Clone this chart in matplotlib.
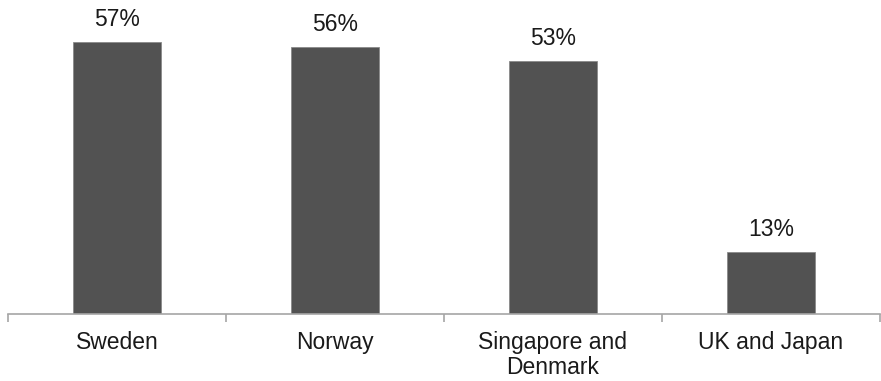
import matplotlib
matplotlib.use("Agg")
import matplotlib.pyplot as plt

plt.rcParams['font.family'] = ['Liberation Sans', 'DejaVu Sans']

categories = ["Sweden", "Norway", "Singapore and\nDenmark", "UK and Japan"]
values = [57, 56, 53, 13]
labels = ["57%", "56%", "53%", "13%"]

fig = plt.figure(figsize=(8.81, 3.81), dpi=100)
ax = fig.add_axes([8 / 881, 67 / 381, 872 / 881, 314 / 381])

x = list(range(len(categories)))
bars = ax.bar(x, values, width=0.40, color="#525252", edgecolor="#8a8a8a", linewidth=0.6)

for b, lab in zip(bars, labels):
    ax.annotate(lab, (b.get_x() + b.get_width() / 2, b.get_height()),
                xytext=(0, 11.5), textcoords="offset points",
                ha="center", va="baseline", fontsize=16.5, color="#1a1a1a")

ax.set_xlim(-0.5, 3.5)
ax.set_ylim(0, 65.8)

for s in ["top", "right", "left"]:
    ax.spines[s].set_visible(False)
ax.spines["bottom"].set_color("#a6a6a6")
ax.spines["bottom"].set_linewidth(1.2)

ax.set_yticks([])
ax.set_xticks(x)
ax.set_xticklabels(categories, fontsize=16.5, color="#1a1a1a", linespacing=1.15)
ax.tick_params(axis="x", which="major", length=0, pad=12)
ax.set_xticks([-0.5, 0.5, 1.5, 2.5, 3.5], minor=True)
ax.tick_params(axis="x", which="minor", length=6, width=1.2, color="#a6a6a6")

fig.savefig("out.png", dpi=100)
